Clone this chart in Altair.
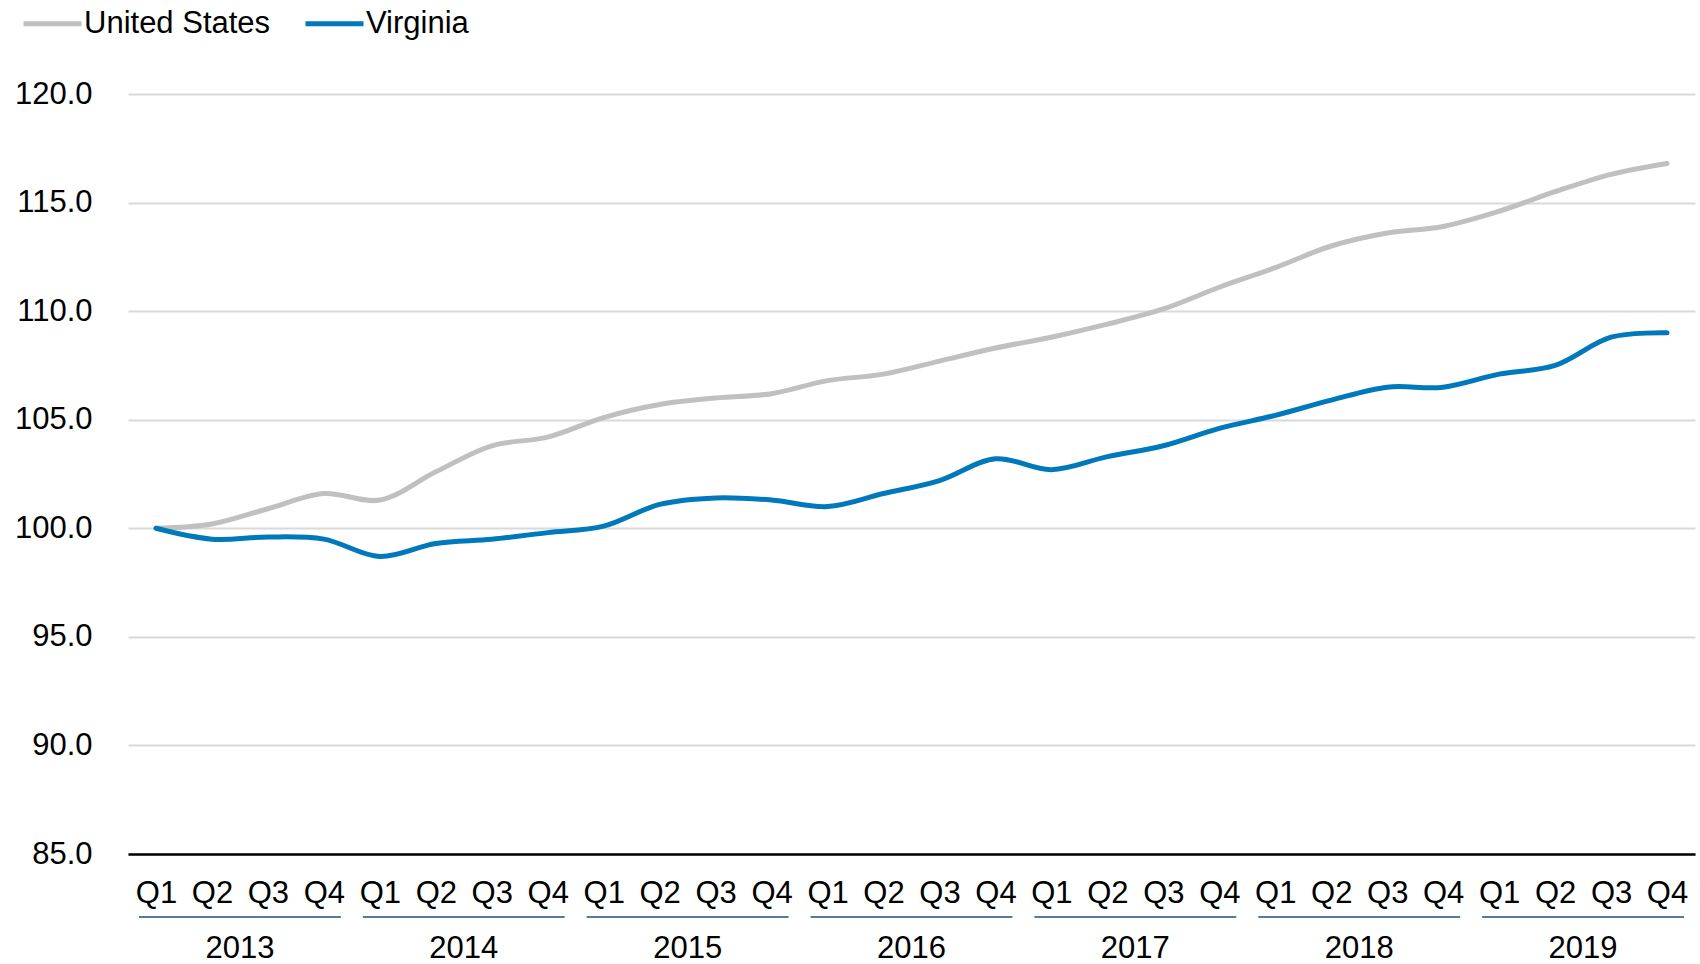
import altair as alt
import pandas as pd

years = [2013, 2014, 2015, 2016, 2017, 2018, 2019]
quarters = ["Q1", "Q2", "Q3", "Q4"]
series_names = ["United States", "Virginia"]
series_colors = ["#c0c0c0", "#0079bc"]

us = [100.0, 100.2, 100.9, 101.6, 101.3, 102.6, 103.8, 104.2,
      105.1, 105.7, 106.0, 106.2, 106.8, 107.1, 107.7, 108.3,
      108.8, 109.4, 110.1, 111.1, 112.0, 113.0, 113.6, 113.9,
      114.6, 115.5, 116.3, 116.8]
va = [100.0, 99.5, 99.6, 99.5, 98.7, 99.3, 99.5, 99.8,
      100.1, 101.1, 101.4, 101.3, 101.0, 101.6, 102.2, 103.2,
      102.7, 103.3, 103.8, 104.6, 105.2, 105.9, 106.5, 106.5,
      107.1, 107.5, 108.8, 109.0]
y_ticks = [85, 90, 95, 100, 105, 110, 115, 120]

rows = []
for name, vals in zip(series_names, [us, va]):
    for i, v in enumerate(vals):
        rows.append({"idx": i, "year": years[i // 4], "quarter": quarters[i % 4],
                     "series": name, "value": v})
df = pd.DataFrame(rows)

yr_rows = []
for k, y in enumerate(years):
    s = k * len(quarters)
    e = s + len(quarters) - 1
    yr_rows.append({"year": str(y), "start": s - 0.5, "end": e + 0.5, "mid": (s + e) / 2})
dfy = pd.DataFrame(yr_rows)

FONT = "Liberation Sans"
qexpr = "[" + ",".join("'%s'" % q for q in quarters) + "][datum.value % 4]"

xscale = alt.Scale(domain=[-0.5, len(us) - 0.5], nice=False, zero=False)
xaxis = alt.Axis(values=list(range(len(us))), labelExpr=qexpr, title=None,
                 grid=False, ticks=False, domain=True, domainColor="#000000",
                 domainWidth=2.5, labelFontSize=31, labelFont=FONT,
                 labelColor="#000000", labelPadding=24, labelFlush=False,
                 labelOverlap=False)

lines = alt.Chart(df).mark_line(interpolate="catmull-rom", strokeWidth=5, strokeCap="round").encode(
    x=alt.X("idx:Q", scale=xscale, axis=xaxis),
    y=alt.Y("value:Q", scale=alt.Scale(domain=[85, 120], nice=False, zero=False),
            axis=alt.Axis(values=y_ticks, format=".1f", title=None, grid=True,
                          gridColor="#d9d9d9", gridWidth=2, ticks=False, domain=False,
                          labelFontSize=31, labelFont=FONT, labelColor="#000000",
                          labelPadding=36)),
    color=alt.Color("series:N",
                    scale=alt.Scale(domain=series_names, range=series_colors),
                    legend=alt.Legend(title=None, orient="none", legendX=-107, legendY=-102,
                                      direction="horizontal", symbolType="stroke",
                                      symbolSize=3364, symbolStrokeWidth=5,
                                      labelFontSize=31, labelFont=FONT, labelColor="#000000",
                                      labelOffset=0, columnPadding=24, labelLimit=0)),
    order=alt.Order("idx:Q"),
)

rules = alt.Chart(dfy).mark_rule(color="#1f4e79", strokeWidth=1.5, xOffset=11, x2Offset=-11).encode(
    x=alt.X("start:Q", scale=xscale, axis=xaxis),
    x2="end:Q",
    y=alt.value(823),
)

texts = alt.Chart(dfy).mark_text(fontSize=31, font=FONT, color="#000000", baseline="middle").encode(
    x=alt.X("mid:Q", scale=xscale, axis=xaxis),
    y=alt.value(855),
    text="year:N",
)

chart = alt.layer(lines, rules, texts).properties(
    width=1567, height=760,
    background="white",
    autosize=alt.AutoSizeParams(type="none"),
    padding={"left": 128, "top": 94, "right": 5, "bottom": 110},
).configure_view(stroke=None)

chart.save("out.html", embed_options={"renderer": "svg", "actions": False})
